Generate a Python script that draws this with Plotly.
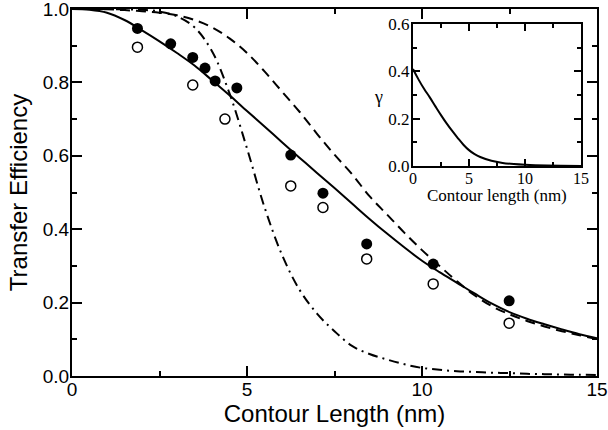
import plotly.graph_objects as go

# ---- data ----
x_curve = [0, 0.5, 1, 1.5, 2, 2.5, 3, 3.5, 4, 4.5, 5, 5.5, 6, 6.5, 7, 7.5, 8, 8.5, 9, 9.5, 10,
           10.5, 11, 11.5, 12, 12.5, 13, 13.5, 14, 14.5, 15]
solid_y = [1.0, 0.998, 0.99, 0.97, 0.942, 0.912, 0.88, 0.846, 0.806, 0.765, 0.722, 0.68, 0.637,
           0.595, 0.553, 0.512, 0.47, 0.428, 0.388, 0.35, 0.314, 0.283, 0.254, 0.225, 0.197,
           0.174, 0.156, 0.141, 0.127, 0.114, 0.103]
dashed_y = [1.0, 1.0, 0.999, 0.997, 0.994, 0.99, 0.983, 0.97, 0.95, 0.92, 0.88, 0.83, 0.775,
            0.72, 0.66, 0.603, 0.55, 0.49, 0.44, 0.39, 0.343, 0.3, 0.258, 0.22, 0.19, 0.168,
            0.15, 0.135, 0.122, 0.111, 0.101]
dashdot_y = [1.0, 1.0, 1.0, 0.999, 0.998, 0.993, 0.98, 0.95, 0.885, 0.77, 0.62, 0.46, 0.33,
             0.235, 0.17, 0.122, 0.082, 0.06, 0.045, 0.032, 0.022, 0.017, 0.013, 0.011, 0.009,
             0.008, 0.006, 0.005, 0.004, 0.0035, 0.003]

filled_x = [1.87, 2.82, 3.45, 3.8, 4.09, 4.71, 6.25, 7.17, 8.42, 10.32, 12.49]
filled_y = [0.947, 0.905, 0.868, 0.839, 0.804, 0.785, 0.602, 0.498, 0.36, 0.305, 0.205]
open_x = [1.87, 3.45, 4.37, 6.25, 7.17, 8.42, 10.32, 12.49]
open_y = [0.896, 0.793, 0.70, 0.518, 0.459, 0.319, 0.251, 0.144]

inset_x = [0, 0.5, 1, 1.5, 2, 2.5, 3, 3.5, 4, 4.5, 5, 5.5, 6, 7, 8, 9, 10, 12, 15]
inset_y = [0.41, 0.365, 0.325, 0.29, 0.252, 0.215, 0.18, 0.148, 0.118, 0.09, 0.067, 0.05,
           0.038, 0.022, 0.013, 0.008, 0.005, 0.002, 0.0005]

main_xticks = [0, 5, 10, 15]
main_yticks = [0.0, 0.2, 0.4, 0.6, 0.8, 1.0]
inset_xticks = [0, 5, 10, 15]
inset_yticks = [0.0, 0.2, 0.4, 0.6]

fig = go.Figure()
lw = 2
fig.add_trace(go.Scatter(x=x_curve, y=solid_y, mode="lines", line=dict(color="black", width=lw, shape="spline")))
fig.add_trace(go.Scatter(x=x_curve, y=dashed_y, mode="lines",
                         line=dict(color="black", width=lw, shape="spline", dash="10px,6px")))
fig.add_trace(go.Scatter(x=x_curve, y=dashdot_y, mode="lines",
                         line=dict(color="black", width=lw, shape="spline", dash="10px,5px,2px,5px")))
fig.add_trace(go.Scatter(x=filled_x, y=filled_y, mode="markers",
                         marker=dict(symbol="circle", size=11, color="black", line=dict(width=0))))
fig.add_trace(go.Scatter(x=open_x, y=open_y, mode="markers",
                         marker=dict(symbol="circle-open", size=10, color="black", line=dict(width=1.5))))
fig.add_trace(go.Scatter(x=inset_x, y=inset_y, mode="lines", xaxis="x2", yaxis="y2",
                         line=dict(color="black", width=lw, shape="spline")))

sans = "Liberation Sans, Arial, sans-serif"
serif = "Liberation Serif, Times New Roman, serif"

axis_common = dict(showline=True, linecolor="black", linewidth=2, mirror="allticks",
                   ticks="inside", tickcolor="black", tickwidth=1.5, showgrid=False,
                   zeroline=False, automargin=False, ticklabeloverflow="allow")

fig.update_layout(
    width=608, height=430,
    margin=dict(l=0, r=0, t=0, b=0),
    paper_bgcolor="white", plot_bgcolor="white",
    showlegend=False,
    xaxis=dict(domain=[72 / 608, 597 / 608], range=[0, 15], tickvals=main_xticks,
               ticklen=10, ticklabelstandoff=-5,
               minor=dict(ticks="inside", ticklen=5, dtick=2.5, tickcolor="black", tickwidth=1.5),
               tickfont=dict(family=sans, size=19, color="black"),
               title=dict(text="Contour Length (nm)", font=dict(family=sans, size=24, color="black"), standoff=0),
               **axis_common),
    yaxis=dict(domain=[(430 - 376) / 430, (430 - 9) / 430], range=[0, 1], tickvals=main_yticks,
               tickformat=".1f", ticklen=10, ticklabelstandoff=-3,
               minor=dict(ticks="inside", ticklen=5, dtick=0.1, tickcolor="black", tickwidth=1.5),
               tickfont=dict(family=sans, size=19, color="black"),
               title=dict(text="Transfer Efficiency", font=dict(family=sans, size=24, color="black"), standoff=8),
               **axis_common),
    xaxis2=dict(domain=[413 / 608, 581 / 608], anchor="y2", range=[0, 15], tickvals=inset_xticks,
                ticklen=7, ticklabelstandoff=-3,
                minor=dict(ticks="inside", ticklen=4, dtick=2.5, tickcolor="black", tickwidth=1.5),
                tickfont=dict(family=serif, size=16, color="black"),
                **axis_common),
    yaxis2=dict(domain=[(430 - 166) / 430, (430 - 24) / 430], anchor="x2", range=[0, 0.6],
                tickvals=inset_yticks, tickformat=".1f", ticklen=7, ticklabelstandoff=-2,
                minor=dict(ticks="inside", ticklen=4, dtick=0.1, tickcolor="black", tickwidth=1.5),
                tickfont=dict(family=serif, size=17, color="black"),
                **axis_common),
    annotations=[
        dict(text="γ", xref="paper", yref="paper", x=378 / 608, y=(430 - 97) / 430,
             xanchor="center", yanchor="middle", showarrow=False,
             font=dict(family=serif, size=18, color="black")),
        dict(text="Contour length (nm)", xref="paper", yref="paper", x=497 / 608, y=(430 - 196) / 430,
             xanchor="center", yanchor="middle", showarrow=False,
             font=dict(family=serif, size=17, color="black")),
    ],
)

fig.write_html("out.html")
